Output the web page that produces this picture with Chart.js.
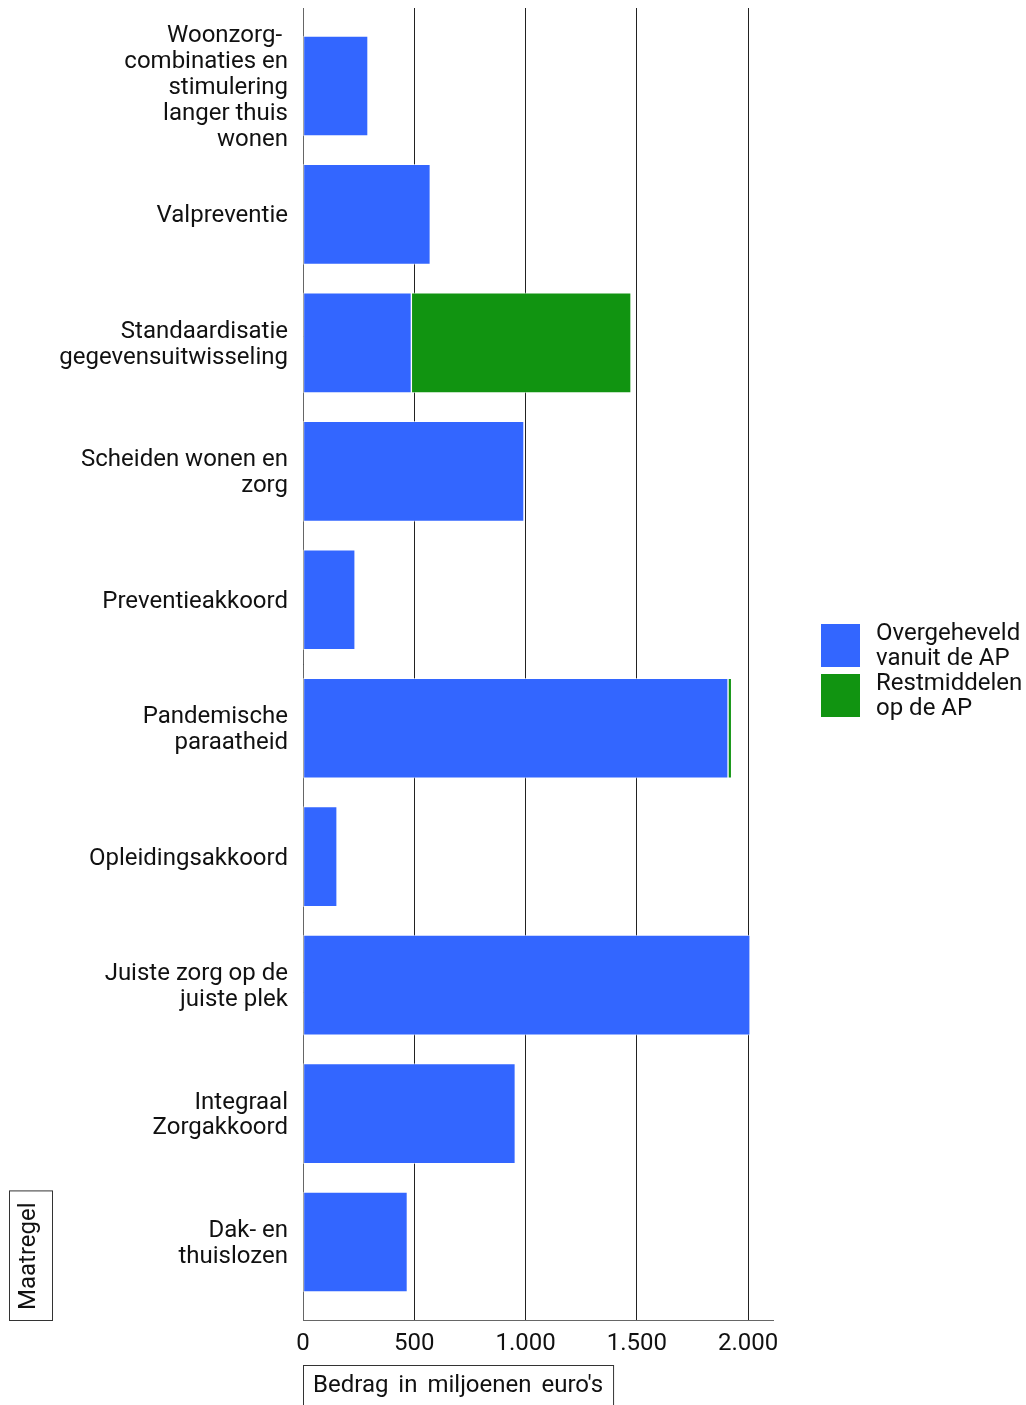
<!DOCTYPE html>
<html>
<head>
<meta charset="utf-8">
<script src="https://cdn.jsdelivr.net/npm/chart.js@4/dist/chart.umd.min.js"></script>
<style>
  html, body { margin: 0; padding: 0; background: #fff; }
  #wrap { position: relative; width: 1026px; height: 1405px; overflow: hidden; }
  canvas { display: block; }
  .legend { position: absolute; left: 821px; top: 620px; font-family: Roboto, sans-serif; font-size: 24px; line-height: 25px; color: #111; }
  .item { position: relative; height: 50px; }
  .sw { position: absolute; left: 0; top: 4px; width: 39px; height: 43px; }
  .lbl { position: absolute; left: 55px; top: 0; white-space: nowrap; }
</style>
</head>
<body>
<div id="wrap">
  <canvas id="c" width="1026" height="1405"></canvas>
  <div class="legend" id="legend"></div>
</div>
<script>
// ---- data ----
const categories = [
  ["Woonzorg- ", "combinaties en", "stimulering", "langer thuis", "wonen"],
  ["Valpreventie"],
  ["Standaardisatie", "gegevensuitwisseling"],
  ["Scheiden wonen en", "zorg"],
  ["Preventieakkoord"],
  ["Pandemische", "paraatheid"],
  ["Opleidingsakkoord"],
  ["Juiste zorg op de", "juiste plek"],
  ["Integraal", "Zorgakkoord"],
  ["Dak- en", "thuislozen"]
];
const overgeheveld = [292, 572, 487, 993, 234, 1910, 153, 2009, 954, 469];
const restmiddelen = [null, null, 987, null, null, 16, null, null, null, null];
const seriesNames = [["Overgeheveld", "vanuit de AP"], ["Restmiddelen", "op de AP"]];
const seriesColors = ["#3366FF", "#119411"];
const xTicks = [0, 500, 1000, 1500, 2000];
const xTitle = "Bedrag in miljoenen euro's";
const yTitle = "Maatregel";

function toPoints(arr) {
  return arr.map((v, i) => ({ x: v, y: i })).filter(p => p.x !== null);
}
function fmt(v) {
  return String(v).replace(/\B(?=(\d{3})+(?!\d))/g, ".");
}

Chart.defaults.font.family = "Roboto, sans-serif";
Chart.defaults.color = "#111";

const titleBoxes = {
  id: "titleBoxes",
  afterDraw(chart) {
    const ctx = chart.ctx;
    const area = chart.chartArea;
    ctx.save();
    ctx.font = "24px Roboto";
    ctx.fillStyle = "#111";
    ctx.strokeStyle = "#333";
    ctx.lineWidth = 1;
    // y title (rotated)
    ctx.save();
    ctx.translate(35, area.bottom - 10);
    ctx.rotate(-Math.PI / 2);
    ctx.textAlign = "left";
    ctx.textBaseline = "alphabetic";
    ctx.fillText(yTitle, 0, 0);
    const yw = ctx.measureText(yTitle).width;
    ctx.restore();
    ctx.strokeRect(9.5, area.bottom - 10 - yw - 12 + 0.5, 43, yw + 22);
    // x title
    ctx.save();
    try { ctx.wordSpacing = "4px"; } catch (e) {}
    ctx.textAlign = "left";
    ctx.textBaseline = "alphabetic";
    ctx.fillText(xTitle, area.left + 10, 1392);
    const xw = ctx.measureText(xTitle).width;
    ctx.restore();
    ctx.strokeRect(area.left + 0.5, 1365.5, xw + 20, 80);
    ctx.restore();
  }
};

new Chart(document.getElementById("c"), {
  type: "bar",
  data: {
    datasets: [
      {
        label: seriesNames[0].join(" "),
        data: toPoints(overgeheveld),
        backgroundColor: seriesColors[0],
        borderColor: "rgba(255,255,255,0.6)",
        borderWidth: 1,
        borderSkipped: false,
        barThickness: 100
      },
      {
        label: seriesNames[1].join(" "),
        data: toPoints(restmiddelen),
        backgroundColor: seriesColors[1],
        borderColor: "rgba(255,255,255,0.6)",
        borderWidth: 1,
        borderSkipped: false,
        barThickness: 100
      }
    ]
  },
  options: {
    indexAxis: "y",
    responsive: false,
    animation: false,
    devicePixelRatio: 1,
    layout: { padding: { top: 8, right: 253, bottom: 0, left: 0 } },
    plugins: { legend: { display: false }, tooltip: { enabled: false } },
    scales: {
      x: {
        type: "linear",
        stacked: true,
        min: 0,
        max: 2112,
        afterBuildTicks: (s) => { s.ticks = xTicks.map(v => ({ value: v })); },
        afterFit: (s) => { s.height = 85; s.paddingLeft = 0; s.paddingRight = 0; },
        ticks: {
          callback: (v) => fmt(v),
          font: { size: 24, lineHeight: 1.075 },
          color: "#111",
          padding: 11,
          maxRotation: 0
        },
        grid: { color: "#222", lineWidth: 1, drawTicks: false },
        border: { display: true, color: "#666", width: 1 }
      },
      y: {
        type: "linear",
        stacked: true,
        reverse: true,
        offset: false,
        min: -0.607,
        max: 9.607,
        afterBuildTicks: (s) => { s.ticks = categories.map((_, i) => ({ value: i })); },
        afterFit: (s) => { s.width = 303; s.paddingTop = 0; s.paddingBottom = 0; },
        ticks: {
          callback: (v) => categories[v],
          font: { size: 24, lineHeight: 1.075 },
          color: "#111",
          padding: 15,
          labelOffset: 2,
          autoSkip: false
        },
        grid: { display: false, drawTicks: false, offset: false },
        border: { display: true, color: "#666", width: 1 }
      }
    }
  },
  plugins: [titleBoxes]
});

// HTML legend
const lg = document.getElementById("legend");
seriesNames.forEach((lines, i) => {
  const it = document.createElement("div");
  it.className = "item";
  const sw = document.createElement("div");
  sw.className = "sw";
  sw.style.background = seriesColors[i];
  const lb = document.createElement("div");
  lb.className = "lbl";
  lb.innerHTML = lines.join("<br>");
  it.appendChild(sw);
  it.appendChild(lb);
  lg.appendChild(it);
});
</script>
</body>
</html>
